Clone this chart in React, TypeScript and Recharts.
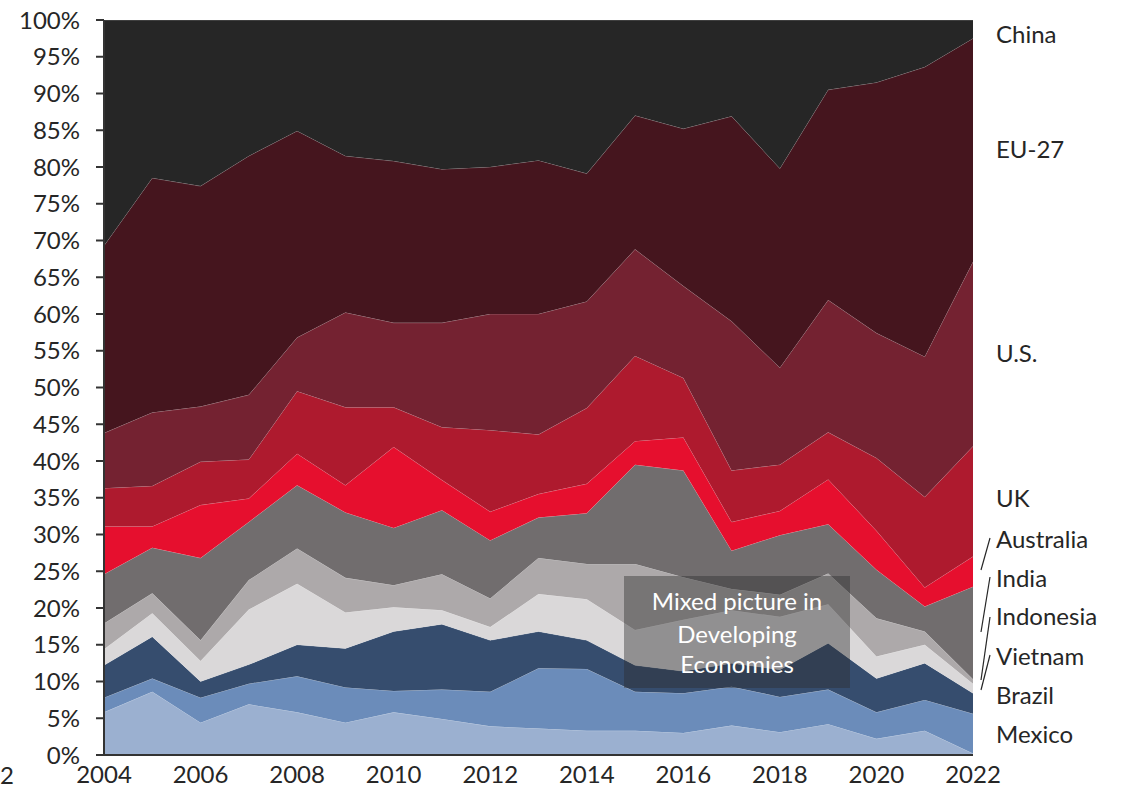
import { AreaChart, Area, XAxis, YAxis } from "recharts";

const years = [2004, 2005, 2006, 2007, 2008, 2009, 2010, 2011, 2012, 2013, 2014, 2015, 2016, 2017, 2018, 2019, 2020, 2021, 2022];

// shares in percent, bottom of the stack first
const mexico = [5.8, 8.6, 4.4, 6.9, 5.8, 4.4, 5.8, 4.9, 3.9, 3.6, 3.3, 3.3, 3.0, 4.0, 3.1, 4.2, 2.2, 3.3, 0.2];
const brazil = [2.0, 1.8, 3.4, 2.8, 4.9, 4.8, 2.9, 4.0, 4.7, 8.2, 8.4, 5.3, 5.4, 5.3, 4.8, 4.7, 3.6, 4.2, 5.4];
const other = [4.4, 5.7, 2.2, 2.6, 4.3, 5.3, 8.1, 8.9, 7.0, 5.0, 3.9, 3.6, 3.0, 3.2, 3.7, 6.3, 4.6, 5.0, 2.8];
const vietnam = [2.2, 3.2, 2.8, 7.5, 8.3, 4.9, 3.3, 1.9, 1.8, 5.1, 5.6, 4.8, 7.0, 7.2, 7.2, 5.3, 3.0, 2.5, 1.3];
const indonesia = [3.5, 2.7, 2.8, 4.0, 4.8, 4.7, 3.0, 4.9, 3.9, 4.9, 4.8, 9.0, 5.8, 2.9, 3.0, 4.2, 5.2, 1.8, 0.6];
const india = [6.7, 6.2, 11.2, 7.9, 8.6, 8.9, 7.8, 8.7, 7.9, 5.5, 6.9, 13.5, 14.5, 5.2, 8.1, 6.7, 6.6, 3.4, 12.6];
const australia = [6.5, 2.9, 7.2, 3.2, 4.3, 3.7, 11.0, 4.1, 3.9, 3.2, 4.0, 3.2, 4.5, 3.9, 3.3, 6.1, 5.3, 2.6, 4.1];
const uk = [5.2, 5.5, 5.9, 5.3, 8.5, 10.6, 5.4, 7.2, 11.1, 8.1, 10.3, 11.6, 8.1, 7.0, 6.3, 6.4, 9.9, 12.3, 15.0];
const us = [7.5, 10.0, 7.5, 8.8, 7.3, 12.9, 11.5, 14.2, 15.8, 16.4, 14.5, 14.5, 12.5, 20.3, 13.2, 18.0, 17.0, 19.1, 25.1];
const eu27 = [25.5, 31.9, 30.0, 32.5, 28.1, 21.3, 22.0, 20.9, 20.0, 20.9, 17.4, 18.2, 21.4, 27.9, 27.1, 28.6, 34.1, 39.4, 30.4];
const china = [30.7, 21.5, 22.6, 18.5, 15.1, 18.5, 19.2, 20.3, 20.0, 19.1, 20.9, 13.0, 14.8, 13.1, 20.2, 9.5, 8.5, 6.4, 2.5];

const xTicks = [2004, 2006, 2008, 2010, 2012, 2014, 2016, 2018, 2020, 2022];
const yTicks = [0, 5, 10, 15, 20, 25, 30, 35, 40, 45, 50, 55, 60, 65, 70, 75, 80, 85, 90, 95, 100];

const series = [
  { key: "mexico", values: mexico, color: "#9BB0D0" },
  { key: "brazil", values: brazil, color: "#6B8CBA" },
  { key: "other", values: other, color: "#364D6E" },
  { key: "vietnam", values: vietnam, color: "#DAD8D9" },
  { key: "indonesia", values: indonesia, color: "#ADA9AA" },
  { key: "india", values: india, color: "#716D6E" },
  { key: "australia", values: australia, color: "#E60F2E" },
  { key: "uk", values: uk, color: "#AE1A2E" },
  { key: "us", values: us, color: "#742231" },
  { key: "eu27", values: eu27, color: "#45151E" },
  { key: "china", values: china, color: "#262626" },
];

const data = years.map((year, i) => {
  const row: any = { year };
  series.forEach((s) => (row[s.key] = s.values[i]));
  return row;
});

const font = "Lato, 'Open Sans', sans-serif";
const ink = "#262626";

const sideLabels = [
  { text: "China", y: 33 },
  { text: "EU-27", y: 148 },
  { text: "U.S.", y: 352 },
  { text: "UK", y: 497 },
  { text: "Australia", y: 538 },
  { text: "India", y: 577 },
  { text: "Indonesia", y: 615 },
  { text: "Vietnam", y: 655 },
  { text: "Brazil", y: 694 },
  { text: "Mexico", y: 733 },
];

export default function App() {
  return (
    <div style={{ position: "absolute", left: 0, top: 0, width: 1124, height: 788, background: "#fff" }}>
      <AreaChart
        width={1124}
        height={788}
        data={data}
        margin={{ top: 20, right: 151, bottom: 0, left: 0 }}
      >
        <XAxis
          dataKey="year"
          type="number"
          domain={[2004, 2022]}
          ticks={xTicks}
          height={33}
          tickLine={false}
          tickSize={0}
          tickMargin={11}
          axisLine={{ stroke: "#333", strokeWidth: 2 }}
          tick={{ fill: ink, fontSize: 24, fontFamily: font }}
          interval={0}
        />
        <YAxis
          type="number"
          domain={[0, 100]}
          ticks={yTicks}
          width={104}
          allowDataOverflow
          tickSize={8}
          tickMargin={16}
          axisLine={{ stroke: "#333", strokeWidth: 2 }}
          tickLine={{ stroke: "#333", strokeWidth: 2 }}
          tickFormatter={(v) => `${v}%`}
          tick={{ fill: ink, fontSize: 24, fontFamily: font }}
          interval={0}
        />
        {series.map((s) => (
          <Area
            key={s.key}
            dataKey={s.key}
            stackId="1"
            type="linear"
            fill={s.color}
            fillOpacity={1}
            stroke="rgba(255,255,255,0.3)"
            strokeWidth={0.8}
            isAnimationActive={false}
          />
        ))}
      </AreaChart>

      <svg width={1124} height={788} style={{ position: "absolute", left: 0, top: 0, pointerEvents: "none" }}>
        <text x={0} y={784} fill={ink} fontSize={24} fontFamily={font}>2</text>
        {sideLabels.map((l) => (
          <text key={l.text} x={996} y={l.y} dominantBaseline="central" fill={ink} fontSize={24} fontFamily={font}>
            {l.text}
          </text>
        ))}
        <line x1={990} y1={538} x2={981} y2={570} stroke={ink} strokeWidth={1.2} />
        <line x1={990} y1={577} x2={981} y2={632} stroke={ink} strokeWidth={1.2} />
        <line x1={990} y1={617} x2={981} y2={680} stroke={ink} strokeWidth={1.2} />
        <line x1={990} y1={655} x2={981} y2={690} stroke={ink} strokeWidth={1.2} />
        <rect x={624} y={576} width={226} height={112} fill="#2e2e2e" fillOpacity={0.42} />
        <text textAnchor="middle" fill="#fff" fontSize={24} fontFamily={font}>
          <tspan x={737} y={610}>Mixed picture in</tspan>
          <tspan x={737} y={643}>Developing</tspan>
          <tspan x={737} y={673}>Economies</tspan>
        </text>
      </svg>
    </div>
  );
}
